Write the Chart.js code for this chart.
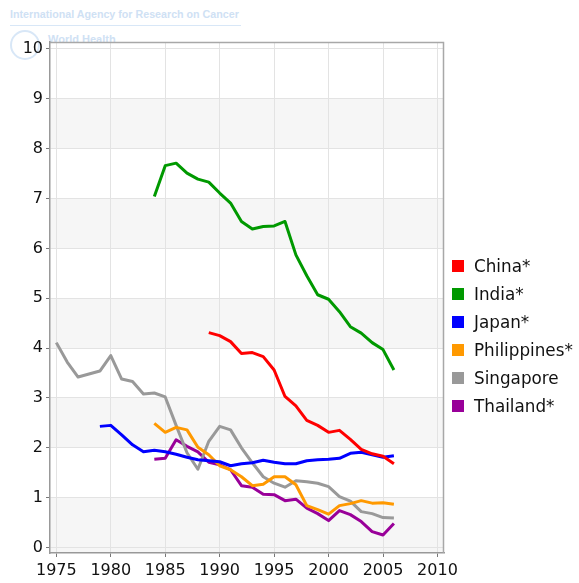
<!DOCTYPE html>
<html>
<head>
<meta charset="utf-8">
<script src="https://cdn.jsdelivr.net/npm/chart.js@4/dist/chart.umd.min.js"></script>
<style>
  html, body { margin: 0; padding: 0; background: #ffffff; }
  #wrap { position: relative; width: 579px; height: 583px; overflow: hidden; }
  #wm { position: absolute; left: 10px; top: 8px; font: bold 10.7px "Liberation Sans", Arial, sans-serif; color: #cfe1f4; white-space: nowrap; }
  #wmline { position: absolute; left: 10px; top: 25px; width: 231px; height: 1px; background: #d8e7f7; }
  #wm2 { position: absolute; left: 48px; top: 33px; font: bold 11px "Liberation Sans", Arial, sans-serif; color: #cfe1f4; white-space: nowrap; }
  #emb { position: absolute; left: 10px; top: 30px; width: 30px; height: 30px; border-radius: 50%; border: 2px solid #d8e7f7; box-sizing: border-box; }
  canvas { position: absolute; left: 0; top: 0; }
  #legend { position: absolute; left: 452px; top: 252px; font: 16.8px "DejaVu Sans", Verdana, sans-serif; color: #111; }
  .item { height: 28px; display: flex; align-items: center; white-space: nowrap; }
  .sw { width: 12px; height: 12px; margin-right: 10px; }
</style>
</head>
<body>
<div id="wrap">
  <div id="emb"></div>
  <div id="wm">International Agency for Research on Cancer</div>
  <div id="wmline"></div>
  <div id="wm2">World Health</div>
  <canvas id="c" width="579" height="583"></canvas>
  <div id="legend"></div>
</div>
<script>
// ---- Data ----
const xTickLabels = [1975, 1980, 1985, 1990, 1995, 2000, 2005, 2010];
const yTickLabels = [0, 1, 2, 3, 4, 5, 6, 7, 8, 9, 10];
const seriesNames = ["China*", "India*", "Japan*", "Philippines*", "Singapore", "Thailand*"];
const seriesColors = ["#ff0000", "#009900", "#0000ff", "#ff9900", "#999999", "#990099"];

const chinaYears = [1989,1990,1991,1992,1993,1994,1995,1996,1997,1998,1999,2000,2001,2002,2003,2004,2005,2006];
const chinaValues = [4.31,4.25,4.13,3.89,3.91,3.83,3.56,3.03,2.84,2.55,2.45,2.31,2.35,2.17,1.97,1.88,1.83,1.68];

const indiaYears = [1984,1985,1986,1987,1988,1989,1990,1991,1992,1993,1994,1995,1996,1997,1998,1999,2000,2001,2002,2003,2004,2005,2006];
const indiaValues = [7.04,7.66,7.71,7.51,7.39,7.33,7.11,6.91,6.54,6.39,6.44,6.45,6.54,5.87,5.45,5.07,4.98,4.73,4.43,4.30,4.11,3.97,3.56];

const japanYears = [1979,1980,1981,1982,1983,1984,1985,1986,1987,1988,1989,1990,1991,1992,1993,1994,1995,1996,1997,1998,1999,2000,2001,2002,2003,2004,2005,2006];
const japanValues = [2.43,2.45,2.26,2.06,1.92,1.95,1.92,1.87,1.81,1.76,1.74,1.72,1.64,1.68,1.70,1.75,1.71,1.68,1.68,1.74,1.76,1.77,1.79,1.89,1.91,1.86,1.81,1.84];

const philippinesYears = [1984,1985,1986,1987,1988,1989,1990,1991,1992,1993,1994,1995,1996,1997,1998,1999,2000,2001,2002,2003,2004,2005,2006];
const philippinesValues = [2.49,2.31,2.41,2.36,2.01,1.86,1.64,1.56,1.42,1.24,1.27,1.42,1.42,1.26,0.84,0.76,0.67,0.84,0.88,0.94,0.89,0.90,0.87];

const singaporeYears = [1975,1976,1977,1978,1979,1980,1981,1982,1983,1984,1985,1986,1987,1988,1989,1990,1991,1992,1993,1994,1995,1996,1997,1998,1999,2000,2001,2002,2003,2004,2005,2006];
const singaporeValues = [4.11,3.72,3.42,3.48,3.54,3.85,3.38,3.33,3.08,3.10,3.02,2.45,1.90,1.57,2.13,2.43,2.36,2.00,1.70,1.42,1.29,1.21,1.34,1.32,1.29,1.22,1.02,0.93,0.72,0.68,0.60,0.59];

const thailandYears = [1984,1985,1986,1987,1988,1989,1990,1991,1992,1993,1994,1995,1996,1997,1998,1999,2000,2001,2002,2003,2004,2005,2006];
const thailandValues = [1.77,1.79,2.16,2.03,1.92,1.71,1.66,1.56,1.24,1.21,1.07,1.06,0.94,0.97,0.79,0.68,0.54,0.74,0.66,0.52,0.32,0.25,0.48];

const allYears = [chinaYears, indiaYears, japanYears, philippinesYears, singaporeYears, thailandYears];
const allValues = [chinaValues, indiaValues, japanValues, philippinesValues, singaporeValues, thailandValues];

// ---- Build datasets ----
const datasets = seriesNames.map((name, i) => ({
  label: name,
  data: allYears[i].map((yr, k) => ({ x: yr, y: allValues[i][k] })),
  borderColor: seriesColors[i],
  backgroundColor: seriesColors[i],
  borderWidth: 3,
  pointRadius: 0,
  tension: 0,
  fill: false,
  borderJoinStyle: 'round',
  borderCapStyle: 'butt'
}));

// ---- Legend (HTML) ----
const legendEl = document.getElementById('legend');
seriesNames.forEach((n, i) => {
  const row = document.createElement('div');
  row.className = 'item';
  const sw = document.createElement('span');
  sw.className = 'sw';
  sw.style.background = seriesColors[i];
  const t = document.createElement('span');
  t.textContent = n;
  row.appendChild(sw); row.appendChild(t);
  legendEl.appendChild(row);
});

// ---- Plugin: white plot area, alternating bands, frame ----
const bandsPlugin = {
  id: 'bands',
  beforeDraw(chart) {
    const { ctx, chartArea: a, scales: { y } } = chart;
    ctx.save();
    ctx.fillStyle = '#ffffff';
    ctx.fillRect(a.left, a.top, a.right - a.left, a.bottom - a.top);
    ctx.fillStyle = '#f6f6f6';
    for (let k = 0; k < yTickLabels.length - 1; k += 2) {
      const v0 = yTickLabels[k], v1 = yTickLabels[k + 1];
      let top = y.getPixelForValue(v1), bot = y.getPixelForValue(v0);
      if (k === 0) bot = a.bottom;
      ctx.fillRect(a.left, top, a.right - a.left, bot - top);
    }
    ctx.restore();
  },
  afterDraw(chart) {
    const { ctx, chartArea: a } = chart;
    ctx.save();
    ctx.strokeStyle = '#a8a8a8';
    ctx.lineWidth = 1.5;
    ctx.beginPath();
    ctx.moveTo(a.left, a.top + 0.5);
    ctx.lineTo(a.right - 0.5, a.top + 0.5);
    ctx.lineTo(a.right - 0.5, a.bottom);
    ctx.stroke();
    ctx.restore();
  }
};

const tickFont = { family: '"DejaVu Sans", Verdana, sans-serif', size: 16 };

new Chart(document.getElementById('c'), {
  type: 'line',
  data: { datasets },
  options: {
    responsive: false,
    animation: false,
    devicePixelRatio: 1,
    layout: { padding: { top: 42, right: 135, left: 0, bottom: 0 } },
    plugins: { legend: { display: false }, tooltip: { enabled: false } },
    scales: {
      x: {
        type: 'linear',
        min: 1974.42,
        max: 2010.6,
        afterBuildTicks: (s) => { s.ticks = xTickLabels.map(v => ({ value: v })); },
        afterFit: (s) => { s.height = 30; },
        ticks: { font: tickFont, color: '#111', padding: 4, maxRotation: 0, autoSkip: false, callback: (v) => String(v) },
        grid: { color: '#e3e3e3', lineWidth: 1, tickLength: 4, tickColor: '#777' },
        border: { display: true, color: '#999', width: 1.5 }
      },
      y: {
        type: 'linear',
        min: -0.11,
        max: 10.14,
        afterBuildTicks: (s) => { s.ticks = yTickLabels.map(v => ({ value: v })); },
        afterFit: (s) => { s.width = 50; },
        ticks: { font: tickFont, color: '#111', padding: 3, autoSkip: false, callback: (v) => String(v) },
        grid: { color: '#e3e3e3', lineWidth: 1, tickLength: 4, tickColor: '#777' },
        border: { display: true, color: '#999', width: 1.5 }
      }
    }
  },
  plugins: [bandsPlugin]
});
</script>
</body>
</html>
